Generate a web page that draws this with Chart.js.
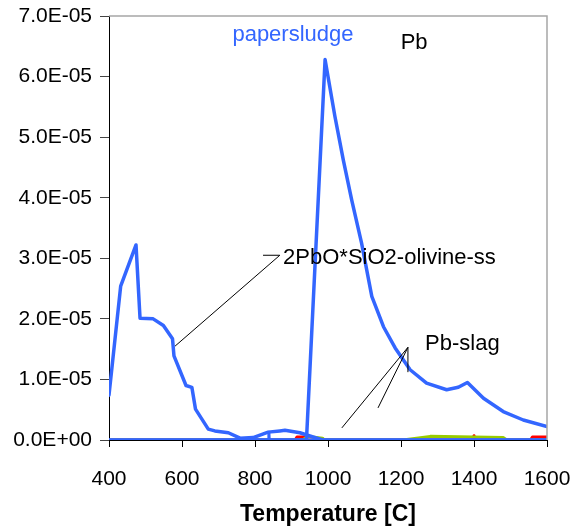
<!DOCTYPE html>
<html>
<head>
<meta charset="utf-8">
<script src="https://cdn.jsdelivr.net/npm/chart.js@4/dist/chart.umd.min.js"></script>
<style>
  body { margin: 0; background: #fff; }
</style>
</head>
<body>
<canvas id="myChart" width="574" height="531"></canvas>
<script>

/* =====================
  data
===================== */

// temperature [C]
var xTicks = [400, 600, 800, 1000, 1200, 1400, 1600];
var yTicks = [0, 1e-5, 2e-5, 3e-5, 4e-5, 5e-5, 6e-5, 7e-5];

// 2PbO*SiO2-olivine-ss
var tempOlivine = [400, 432, 474, 485, 521, 549, 574, 578, 611, 627, 637, 672, 690, 727, 759, 795, 836, 868, 882, 923, 959, 986, 1600];
var olivine     = [0.74e-5, 2.54e-5, 3.22e-5, 2.01e-5, 2.0e-5, 1.89e-5, 1.67e-5, 1.39e-5, 0.90e-5, 0.87e-5, 0.51e-5, 0.18e-5, 0.15e-5, 0.12e-5, 0.03e-5, 0.04e-5, 0.13e-5, 0.15e-5, 0.16e-5, 0.12e-5, 0.05e-5, 0, 0];

// Pb-slag
var tempSlag = [400, 941, 992, 1019, 1042, 1065, 1092, 1120, 1152, 1184, 1225, 1270, 1325, 1357, 1382, 1426, 1480, 1535, 1600];
var slag     = [0, 0, 6.28e-5, 5.34e-5, 4.62e-5, 3.96e-5, 3.25e-5, 2.37e-5, 1.87e-5, 1.52e-5, 1.16e-5, 0.94e-5, 0.83e-5, 0.87e-5, 0.95e-5, 0.69e-5, 0.47e-5, 0.33e-5, 0.22e-5];

// small phase starting near 840
var tempSmall = [400, 837, 838, 839, 1600];
var small     = [0, 0, 0.13e-5, 0, 0];

// minor phases close to zero
var tempGreen = [400, 930, 945, 985, 990, 1180, 1200, 1205, 1280, 1480, 1490, 1600];
var green     = [0, 0, 0.06e-5, 0.03e-5, 0, 0, 0, 0, 0.06e-5, 0.04e-5, 0, 0];
var tempRed   = [400, 910, 915, 935, 940, 1396, 1400, 1404, 1555, 1560, 1600];
var red       = [0, 0, 0.05e-5, 0.05e-5, 0, 0, 0.07e-5, 0, 0, 0.05e-5, 0.05e-5];

var toPoints = function(xs, ys) {
	return xs.map(function(x, i) { return { x: x, y: ys[i] }; });
};

/* =====================
  annotations
===================== */

var BLUE = 'rgb(51,102,255)';
var FONT = '"Liberation Sans", Arial, sans-serif';

var notes = [
	{ text: 'papersludge', x: 904, y: 6.68e-5, color: BLUE, align: 'center' },
	{ text: 'Pb', x: 1236, y: 6.56e-5, color: '#000', align: 'center' },
	{ text: '2PbO*SiO2-olivine-ss', x: 877, y: 3.0e-5, color: '#000', align: 'left' },
	{ text: 'Pb-slag', x: 1266, y: 1.58e-5, color: '#000', align: 'left' }
];

// leader lines, each a list of [temp, value]
var leaders = [
	[[822, 3.05e-5], [868, 3.05e-5], [581, 1.55e-5]],
	[[1219, 1.53e-5], [1219, 1.12e-5]],
	[[1219, 1.53e-5], [1137, 0.53e-5]],
	[[1219, 1.53e-5], [1038, 0.20e-5]]
];

var notesPlugin = {
	id: 'notes',
	afterDatasetsDraw: function(chart) {
		var ctx = chart.ctx;
		var sx = chart.scales.x, sy = chart.scales.y;
		var area = chart.chartArea;
		ctx.save();

		// grey frame on top and right
		ctx.strokeStyle = '#a6a6a6';
		ctx.lineWidth = 1.5;
		ctx.beginPath();
		ctx.moveTo(area.left, area.top);
		ctx.lineTo(area.right, area.top);
		ctx.lineTo(area.right, area.bottom);
		ctx.stroke();

		ctx.strokeStyle = '#000';
		ctx.lineWidth = 1;
		leaders.forEach(function(pts) {
			ctx.beginPath();
			pts.forEach(function(p, i) {
				var px = sx.getPixelForValue(p[0]), py = sy.getPixelForValue(p[1]);
				if (i == 0) ctx.moveTo(px, py); else ctx.lineTo(px, py);
			});
			ctx.stroke();
		});

		ctx.font = '22px ' + FONT;
		ctx.textBaseline = 'middle';
		notes.forEach(function(n) {
			ctx.fillStyle = n.color;
			ctx.textAlign = n.align;
			ctx.fillText(n.text, sx.getPixelForValue(n.x), sy.getPixelForValue(n.y));
		});
		ctx.restore();
	}
};

/* =====================
  chart
===================== */

var lineSet = function(label, xs, ys, color, width, order) {
	return {
		label: label,
		data: toPoints(xs, ys),
		borderColor: color,
		backgroundColor: color,
		borderWidth: width,
		borderJoinStyle: 'round',
		borderCapStyle: 'round',
		pointRadius: 0,
		showLine: true,
		tension: 0,
		order: order
	};
};

var fmtExp = function(v) {
	if (v == 0) return '0.0E+00';
	var parts = Number(v).toExponential(1).toUpperCase().split('E');
	var e = parseInt(parts[1], 10);
	var es = (e < 0 ? '-' : '+') + (Math.abs(e) < 10 ? '0' : '') + Math.abs(e);
	return parts[0] + 'E' + es;
};

var config = {
	type: 'scatter',
	data: {
		datasets: [
			lineSet('Pb-slag', tempSlag, slag, BLUE, 3.5, 1),
			lineSet('2PbO*SiO2-olivine-ss', tempOlivine, olivine, BLUE, 3.5, 2),
			lineSet('small', tempSmall, small, BLUE, 3, 3),
			lineSet('green', tempGreen, green, 'rgb(153,204,0)', 3, 4),
			lineSet('red', tempRed, red, 'rgb(255,0,0)', 3, 5)
		]
	},
	options: {
		responsive: false,
		animation: false,
		devicePixelRatio: 1,
		layout: { padding: { top: 16, right: 27, left: 0, bottom: 0 } },
		plugins: {
			legend: { display: false },
			tooltip: { enabled: false }
		},
		scales: {
			x: {
				type: 'linear',
				min: xTicks[0],
				max: xTicks[xTicks.length - 1],
				afterBuildTicks: function(scale) {
					scale.ticks = xTicks.map(function(v) { return { value: v }; });
				},
				afterFit: function(scale) {
					scale.height = 91;
					scale.paddingLeft = 0;
					scale.paddingRight = 0;
				},
				grid: { display: true, drawOnChartArea: false, drawTicks: true, tickLength: 7, color: '#000' },
				border: { color: '#000', width: 1 },
				ticks: {
					color: '#000',
					font: { family: FONT, size: 21 },
					padding: 20,
					maxRotation: 0,
					callback: function(v) { return String(v); }
				},
				title: {
					display: true,
					text: 'Temperature [C]',
					color: '#000',
					font: { family: FONT, size: 23, weight: 'bold' },
					padding: { top: 0, bottom: 3 }
				}
			},
			y: {
				type: 'linear',
				min: yTicks[0],
				max: yTicks[yTicks.length - 1],
				afterBuildTicks: function(scale) {
					scale.ticks = yTicks.map(function(v) { return { value: v }; });
				},
				afterFit: function(scale) {
					scale.width = 109;
					scale.paddingTop = 0;
					scale.paddingBottom = 0;
				},
				grid: { display: true, drawOnChartArea: false, drawTicks: true, tickLength: 9, color: '#444' },
				border: { color: '#000', width: 1 },
				ticks: {
					color: '#000',
					font: { family: FONT, size: 21 },
					padding: 8,
					callback: function(v) { return fmtExp(v); }
				}
			}
		}
	},
	plugins: [notesPlugin]
};

var can = document.getElementById('myChart');
var ctx = can.getContext('2d');
var myChart = new Chart(ctx, config);
</script>
</body>
</html>
